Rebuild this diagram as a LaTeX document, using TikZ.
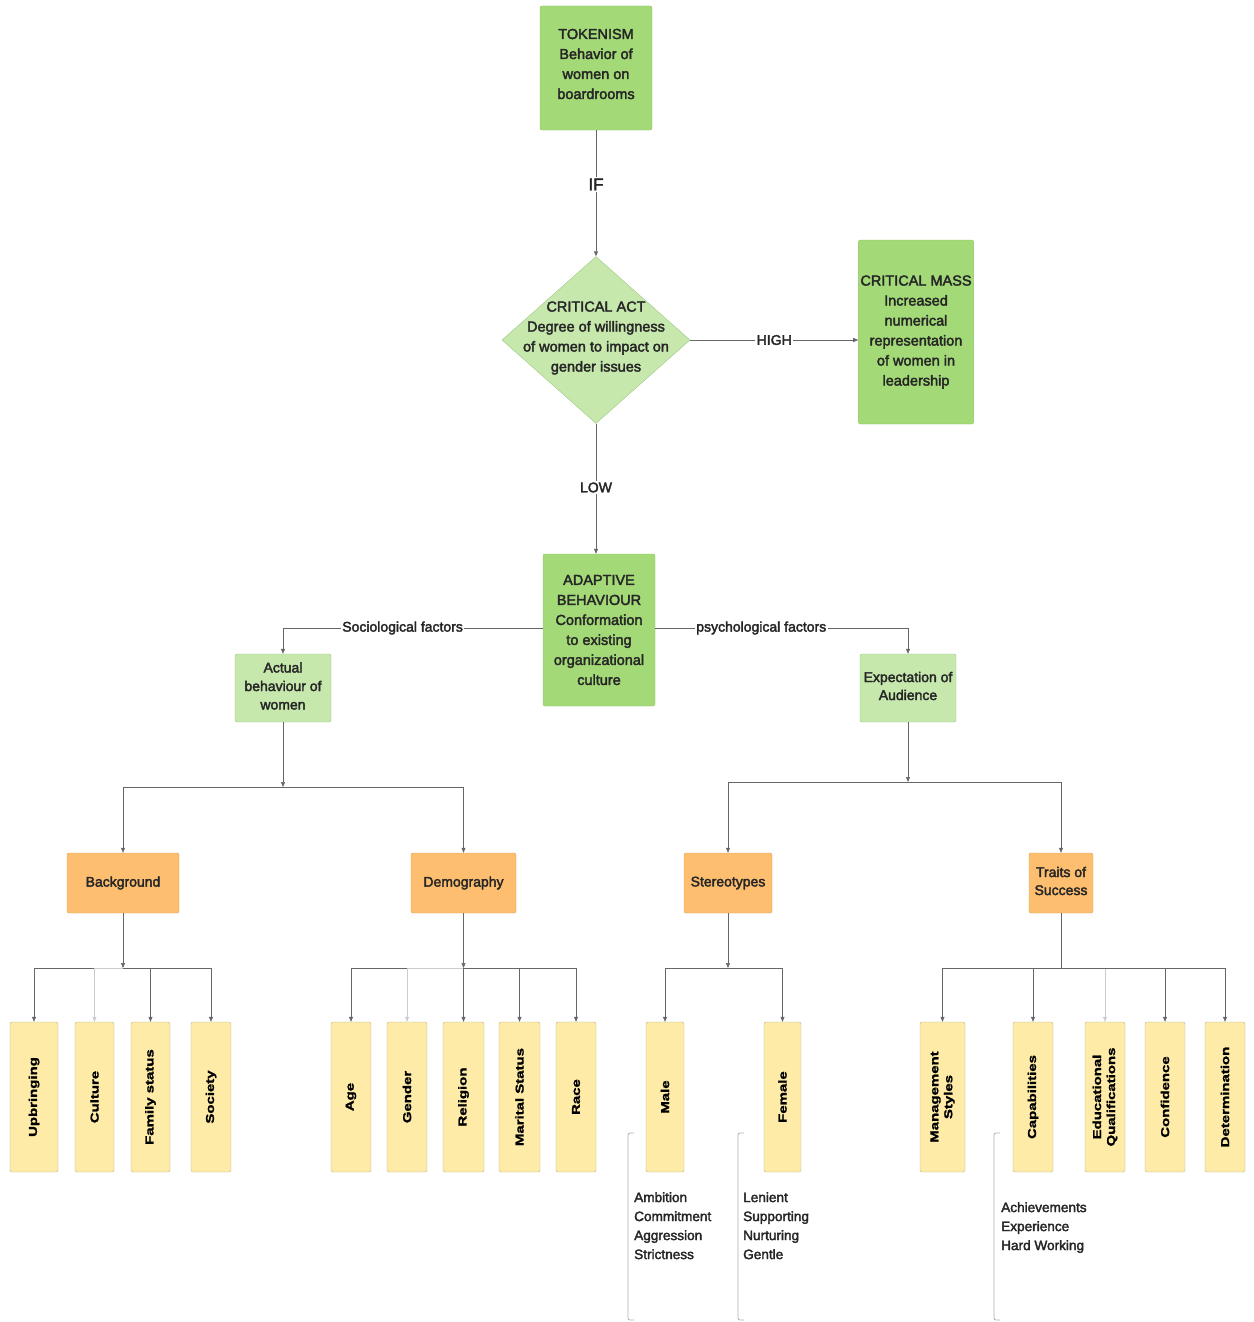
\documentclass[tikz,border=0pt]{standalone}
\usepackage{fontspec}
\setmainfont{Liberation Sans}[FakeBold=2.5]
\newfontfamily\leaffont[FakeStretch=1.3,FakeBold=1.5]{Liberation Sans}
\usetikzlibrary{shapes.geometric,arrows.meta}
\definecolor{txt}{HTML}{262626}
\definecolor{gdark}{HTML}{A3D977}
\definecolor{gdarkb}{HTML}{8CC463}
\definecolor{glight}{HTML}{C7E8AD}
\definecolor{glightb}{HTML}{9CC683}
\definecolor{orng}{HTML}{FDBF6F}
\definecolor{orngb}{HTML}{D9A05A}
\definecolor{leafc}{HTML}{FEEBA8}
\definecolor{leafb}{HTML}{BDB38A}
\definecolor{wire}{HTML}{666666}
\definecolor{wirelt}{HTML}{CCCCCC}
\definecolor{brk}{HTML}{B0B0B0}

\begin{document}
\begin{tikzpicture}[x=1pt,y=-1pt,
  boxbase/.style={draw, rounded corners=2pt, align=center, text=txt, inner sep=2pt},
  bigbox/.style={boxbase, fill=gdark, draw=gdarkb, font=\fontsize{14.5}{20}\selectfont},
  midbox/.style={boxbase, fill=glight, draw=glightb, font=\fontsize{14}{18.5}\selectfont},
  catbox/.style={boxbase, fill=orng, draw=orngb, font=\fontsize{14}{18}\selectfont, minimum height=60pt},
  leafbox/.style={draw=leafb, fill=leafc, rounded corners=2pt, rotate=90, align=center,
    minimum width=150pt, inner sep=1pt, text=black, font=\leaffont\bfseries\fontsize{11.5}{14}\selectfont},
  decision/.style={diamond, draw=glightb, fill=glight, inner sep=0pt, minimum width=188pt, minimum height=167pt},
  plain/.style={align=center, text=txt, inner sep=0pt},
  wirelbl/.style={fill=white, text=txt, inner sep=1.5pt, font=\fontsize{14}{16}\selectfont},
  conn/.style={draw=wire, line width=0.6pt, -{Triangle[length=5pt,width=4pt]}},
  bar/.style={draw=wire, line width=0.6pt},
  faint/.style={draw=wirelt},
  listtxt/.style={align=left, anchor=north west, text=txt, inner sep=0pt, font=\fontsize{13.6}{19}\selectfont},
  bracket/.style={draw=brk, line width=0.8pt, rounded corners=2pt}
]
\useasboundingbox (0,0) rectangle (1253,1322);

% --- top of the flow ---
\node[bigbox, minimum width=112pt, minimum height=124pt] (tok) at (596,68) {};
\node[plain, font=\fontsize{14.5}{20}\selectfont] (toktext) at (596,64)
  {TOKENISM\\Behavior of\\women on\\boardrooms};
\node[decision] (ca) at (596,340) {};
\node[plain, font=\fontsize{14.5}{20}\selectfont] (catext) at (596,338)
  {CRITICAL ACT\\Degree of willingness\\of women to impact on\\gender issues};
\node[bigbox, minimum width=112pt, minimum height=184pt] (cm) at (916,332)
  {CRITICAL MASS\\Increased\\numerical\\representation\\of women in\\leadership};
\node[bigbox, minimum width=112pt, minimum height=152pt] (ad) at (599,630)
  {ADAPTIVE\\BEHAVIOUR\\Conformation\\to existing\\organizational\\culture};

\draw[conn] (tok) -- node[wirelbl, font=\fontsize{17}{18}\selectfont, pos=0.43] {IF} (ca);
\draw[conn] (ca.east) -- node[wirelbl, pos=0.5] {HIGH} (ca.east -| cm.west);
\draw[conn] (ca.south) -- node[wirelbl, pos=0.49] {LOW} (ca.south |- ad.north);

% --- second level ---
\node[midbox, minimum width=96pt, minimum height=68pt] (act) at (283,688) {};
\node[plain, font=\fontsize{14}{18.5}\selectfont] (acttext) at (283,686)
  {Actual\\behaviour of\\women};
\node[midbox, minimum width=96pt, minimum height=68pt] (exp) at (908,688) {};
\node[plain, font=\fontsize{14}{18}\selectfont] (exptext) at (908,686)
  {Expectation of\\Audience};

\coordinate (adw) at (543,628);
\coordinate (ade) at (655,628);
\draw[conn] (adw) -| node[wirelbl, pos=0.27] {Sociological factors} (act.north);
\draw[conn] (ade) -| node[wirelbl, pos=0.21] {psychological factors} (exp.north);

% --- categories ---
\node[catbox, minimum width=112pt] (bg) at (123,883) {Background};
\node[catbox, minimum width=105pt] (dem) at (463.5,883) {Demography};
\node[catbox, minimum width=88pt] (ste) at (728,883) {Stereotypes};
\node[catbox, minimum width=64pt] (tra) at (1061,883) {};
\node[plain, font=\fontsize{14}{18}\selectfont] (tratext) at (1061,881) {Traits of\\Success};

\coordinate (ja) at (283,787);
\coordinate (je) at (908,782);
\draw[conn] (act.south) -- (ja);
\draw[conn] (ja) -| (bg.north);
\draw[conn] (ja) -| (dem.north);
\draw[conn] (exp.south) -- (je);
\draw[conn] (je) -| (ste.north);
\draw[conn] (je) -| (tra.north);

% --- leaves ---
\node[leafbox, minimum height=48pt] (upb) at (34,1097) {Upbringing};
\node[leafbox, minimum height=39pt] (cul) at (94.5,1097) {Culture};
\node[leafbox, minimum height=39pt] (fam) at (150.5,1097) {Family status};
\node[leafbox, minimum height=40pt] (soc) at (211,1097) {Society};

\node[leafbox, minimum height=40pt] (age) at (351,1097) {Age};
\node[leafbox, minimum height=40pt] (gen) at (407,1097) {Gender};
\node[leafbox, minimum height=41pt] (rel) at (463.5,1097) {Religion};
\node[leafbox, minimum height=41pt] (mar) at (519.5,1097) {Marital Status};
\node[leafbox, minimum height=40pt] (rac) at (576,1097) {Race};

\node[leafbox, minimum height=38pt] (mal) at (665,1097) {Male};
\node[leafbox, minimum height=37pt] (fem) at (782.5,1097) {Female};

\node[leafbox, minimum height=45pt] (mgt) at (942.5,1097) {Management\\Styles};
\node[leafbox, minimum height=40pt] (cap) at (1033,1097) {Capabilities};
\node[leafbox, minimum height=40pt] (edu) at (1105,1097) {Educational\\Qualifications};
\node[leafbox, minimum height=40pt] (con) at (1165,1097) {Confidence};
\node[leafbox, minimum height=40pt] (det) at (1225,1097) {Determination};

\coordinate (jb) at (123,968);
\coordinate (jd) at (463.5,968);
\coordinate (js) at (728,968);
\coordinate (jt) at (1061,968);

\draw[conn] (bg.south) -- (jb);
\draw[conn] (dem.south) -- (jd);
\draw[conn] (ste.south) -- (js);
\draw[bar] (tra.south) -- (jt);

\draw[conn] (jb) -| (upb.east);
\draw[conn, faint] (jb) -| (cul.east);
\draw[conn] (jb) -| (fam.east);
\draw[conn] (jb) -| (soc.east);

\draw[conn] (jd) -| (age.east);
\draw[conn, faint] (jd) -| (gen.east);
\draw[conn] (jd) -- (rel.east);
\draw[conn] (jd) -| (mar.east);
\draw[conn] (jd) -| (rac.east);

\draw[conn] (js) -| (mal.east);
\draw[conn] (js) -| (fem.east);

\draw[conn] (jt) -| (mgt.east);
\draw[conn] (jt) -| (cap.east);
\draw[conn, faint] (jt) -| (edu.east);
\draw[conn] (jt) -| (con.east);
\draw[conn] (jt) -| (det.east);

% --- notes under the stereotype and capability boxes ---
\draw[bracket] (634,1133) -- (628,1133) -- (628,1320) -- (634,1320);
\draw[bracket] (744,1133) -- (738,1133) -- (738,1320) -- (744,1320);
\draw[bracket] (1000,1133) -- (994,1133) -- (994,1320) -- (1000,1320);

\node[listtxt] (malenote) at (634,1192) {Ambition\\Commitment\\Aggression\\Strictness};
\node[listtxt] (femnote) at (743,1192) {Lenient\\Supporting\\Nurturing\\Gentle};
\node[listtxt] (capnote) at (1001,1202) {Achievements\\Experience\\Hard Working};
\end{tikzpicture}
\end{document}
